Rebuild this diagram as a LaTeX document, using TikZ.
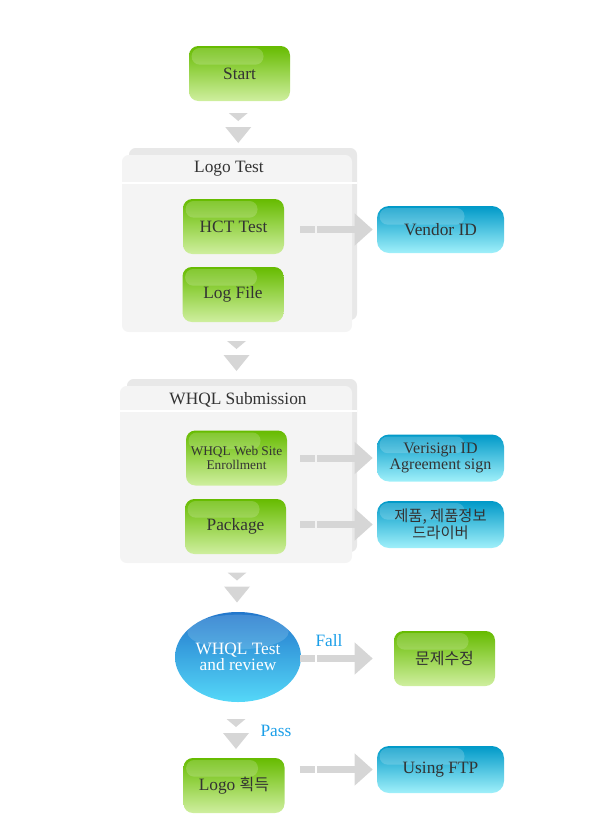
\documentclass[tikz,border=0pt]{standalone}
\usepackage{fontspec}
\setmainfont{Liberation Serif}
\newfontfamily\kofont{Noto Sans CJK KR}
\usetikzlibrary{shapes.geometric,arrows.meta,calc}

\definecolor{grtop}{HTML}{66BB00}
\definecolor{grbot}{HTML}{CFEF9F}
\definecolor{cytop}{HTML}{0099C8}
\definecolor{cybot}{HTML}{A0F0FA}
\definecolor{eltop}{HTML}{2277CC}
\definecolor{elbot}{HTML}{55D8F8}
\definecolor{txt}{HTML}{333333}
\definecolor{arr}{HTML}{D6D6D6}
\definecolor{pfront}{HTML}{F4F4F4}
\definecolor{pback}{HTML}{E8E8E8}
\definecolor{lbl}{HTML}{1A9EE8}

\tikzset{
  gloss/.style={path picture={
    \fill[white,opacity=0.18,rounded corners=6pt]
      ([xshift=2pt,yshift=-1.5pt]path picture bounding box.north west)
      rectangle ([xshift=18pt,yshift=-14pt]path picture bounding box.north);}},
  eglow/.style={path picture={
    \fill[white,opacity=0.15]
      ([yshift=-15pt]path picture bounding box.north) ellipse (38pt and 13pt);}},
  greenbox/.style={rounded corners=7pt, minimum width=75.75pt, minimum height=41.25pt,
    inner sep=0pt, top color=grtop, bottom color=grbot, text=txt, gloss,
    font=\fontsize{13}{13}\selectfont},
  cyanbox/.style={rounded corners=9pt, minimum width=95.25pt, minimum height=35.25pt,
    inner sep=0pt, top color=cytop, bottom color=cybot, text=txt, gloss,
    font=\fontsize{13}{13}\selectfont},
  panel/.style={fill=pfront, rounded corners=5pt, minimum width=172.5pt, minimum height=132.75pt},
  head/.style={text=txt, font=\fontsize{13}{13}\selectfont},
  lbl/.style={text=lbl, font=\fontsize{13}{13}\selectfont},
  fat/.style={draw=arr, line width=5.25pt, dash pattern=on 11.25pt off 1.5pt on 300pt off 0pt,
    -{Triangle[width=23.25pt,length=13.5pt]}, shorten >=3pt},
  dtri/.pic={
    \fill[arr] (-9.5,-15) -- (9.5,-15) -- (0,-7) -- cycle;
    \fill[arr] (-13,-1) -- (13,-1) -- (0,15) -- cycle;
  }
}

\begin{document}
\begin{tikzpicture}[x=0.75pt,y=-0.75pt]
\useasboundingbox (0,0) rectangle (600,840);

\node[greenbox] (start) at (239.5,73.5) {Start};

% logo test panel
\fill[pback, rounded corners=5pt] (129,148) rectangle (357,320);
\node[panel] (logo) at (237,243.5) {};
\draw[white, line width=1.5pt] (122,183) -- (357,183);
\node[head] (logoh) at (229,169) {Logo Test};
\node[greenbox] (hct) at (233.5,226.5) {HCT Test};
\node[greenbox] (logf) at (233,294.5) {Log File};
\node[cyanbox] (vendor) at (440.5,229.5) {Vendor ID};

% submission panel
\fill[pback, rounded corners=5pt] (127,379) rectangle (357,552);
\node[panel, minimum width=174pt] (whql) at (236,474.5) {};
\draw[white, line width=1.5pt] (120,411) -- (357,411);
\node[head] (whqlh) at (238,400) {WHQL Submission};
\node[greenbox, align=center, font=\fontsize{10}{10}\selectfont] (web) at (236.5,458) {WHQL Web Site\\Enrollment};
\node[greenbox] (pkg) at (235.5,526.5) {Package};
\node[cyanbox, align=center, font=\fontsize{12}{10.5}\selectfont] (veri) at (440.5,458) {Verisign ID\\Agreement sign};
\node[cyanbox, align=center, font=\kofont\fontsize{11.5}{11}\selectfont] (drv) at (440.5,524.5) {제품, 제품정보\\드라이버};

% test and result
\node[ellipse, minimum width=94.5pt, minimum height=67.5pt, inner sep=0pt,
  top color=eltop, bottom color=elbot, text=white, eglow, align=center,
  font=\fontsize{13}{10.5}\selectfont] (review) at (238,657) {WHQL Test\\and review};
\node[lbl] (fall) at (329,641) {Fall};
\node[greenbox, font=\kofont\fontsize{12}{12}\selectfont] (fix) at (444.5,658.5) {문제수정};
\node[lbl] (pass) at (276,731) {Pass};
\node[greenbox] (get) at (234,785.5) {Logo {\kofont\fontsize{12}{12}\selectfont 획득}};
\node[cyanbox] (ftp) at (440.5,769.5) {Using FTP};

% down arrows
\pic at ($(start.south)!0.5!(logo.north)$) {dtri};
\pic at ($(logo.south)!0.5!(whql.north)+(0,-3)$) {dtri};
\pic at ($(whql.south)!0.5!(review.north)$) {dtri};
\pic at ($(review.south)!0.5!(get.north)+(0,4)$) {dtri};

% side arrows
\draw[fat] ($(hct.east |- vendor.west)+(16,0)$) -- (vendor.west);
\draw[fat] ($(web.east |- veri.west)+(13,0)$) -- (veri.west);
\draw[fat] ($(pkg.east |- drv.west)+(14,0)$) -- (drv.west);
\draw[fat, shorten >=15.75pt] ($(review.east |- fix.west)+(-1,0)$) -- (fix.west);
\draw[fat] ($(get.east |- ftp.west)+(15,0)$) -- (ftp.west);
\end{tikzpicture}
\end{document}
